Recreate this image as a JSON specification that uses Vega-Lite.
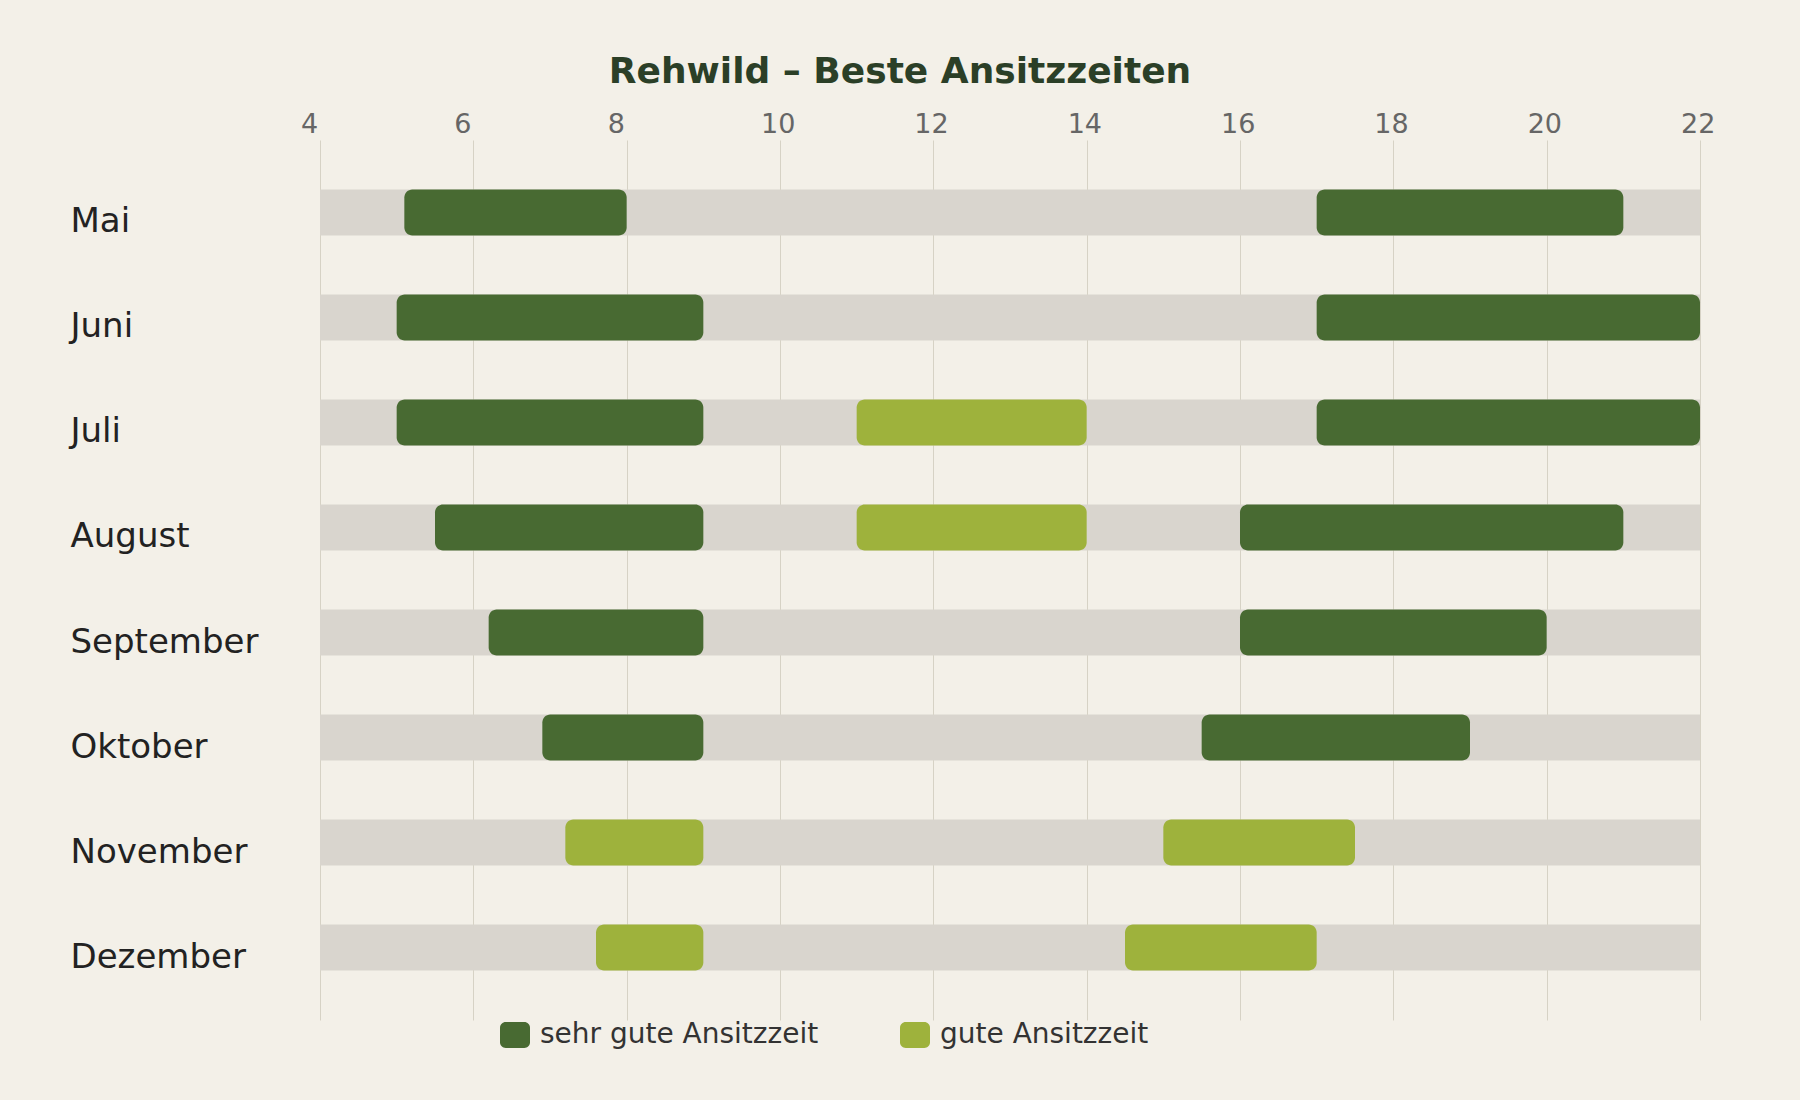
{
  "$schema": "https://vega.github.io/schema/vega-lite/v6.json",
  "width": 1380,
  "height": 880,
  "autosize": {"type": "none"},
  "padding": {"left": 320, "top": 140, "right": 100, "bottom": 80},
  "background": "#f3f0e8",
  "config": {
    "view": {"stroke": null},
    "font": "DejaVu Sans"
  },
  "title": {
    "text": "Rehwild – Beste Ansitzzeiten",
    "fontSize": 36,
    "fontWeight": "bold",
    "color": "#2b3f27",
    "anchor": "middle",
    "dx": -110,
    "offset": 19
  },
  "datasets": {
    "months": [
      {"month": "Mai"}, {"month": "Juni"}, {"month": "Juli"}, {"month": "August"},
      {"month": "September"}, {"month": "Oktober"}, {"month": "November"}, {"month": "Dezember"}
    ],
    "slots": [
      {"month": "Mai", "start": 5.1, "end": 8, "rating": "sehr gute Ansitzzeit"},
      {"month": "Mai", "start": 17, "end": 21, "rating": "sehr gute Ansitzzeit"},
      {"month": "Juni", "start": 5, "end": 9, "rating": "sehr gute Ansitzzeit"},
      {"month": "Juni", "start": 17, "end": 22, "rating": "sehr gute Ansitzzeit"},
      {"month": "Juli", "start": 5, "end": 9, "rating": "sehr gute Ansitzzeit"},
      {"month": "Juli", "start": 11, "end": 14, "rating": "gute Ansitzzeit"},
      {"month": "Juli", "start": 17, "end": 22, "rating": "sehr gute Ansitzzeit"},
      {"month": "August", "start": 5.5, "end": 9, "rating": "sehr gute Ansitzzeit"},
      {"month": "August", "start": 11, "end": 14, "rating": "gute Ansitzzeit"},
      {"month": "August", "start": 16, "end": 21, "rating": "sehr gute Ansitzzeit"},
      {"month": "September", "start": 6.2, "end": 9, "rating": "sehr gute Ansitzzeit"},
      {"month": "September", "start": 16, "end": 20, "rating": "sehr gute Ansitzzeit"},
      {"month": "Oktober", "start": 6.9, "end": 9, "rating": "sehr gute Ansitzzeit"},
      {"month": "Oktober", "start": 15.5, "end": 19, "rating": "sehr gute Ansitzzeit"},
      {"month": "November", "start": 7.2, "end": 9, "rating": "gute Ansitzzeit"},
      {"month": "November", "start": 15, "end": 17.5, "rating": "gute Ansitzzeit"},
      {"month": "Dezember", "start": 7.6, "end": 9, "rating": "gute Ansitzzeit"},
      {"month": "Dezember", "start": 14.5, "end": 17, "rating": "gute Ansitzzeit"}
    ]
  },
  "encoding": {
    "y": {
      "field": "month",
      "type": "nominal",
      "sort": ["Mai", "Juni", "Juli", "August", "September", "Oktober", "November", "Dezember"],
      "scale": {"type": "band", "paddingInner": 0, "paddingOuter": 0.19},
      "axis": {
        "title": null,
        "orient": "left",
        "domain": false,
        "ticks": false,
        "grid": false,
        "labelAlign": "left",
        "labelBaseline": "alphabetic",
        "labelOffset": 20,
        "labelPadding": 250,
        "labelLimit": 400,
        "labelFontSize": 34,
        "labelColor": "#222222"
      }
    }
  },
  "layer": [
    {
      "data": {"name": "months"},
      "mark": {"type": "bar", "height": 46, "color": "#d9d5ce", "cornerRadius": 0},
      "encoding": {
        "x": {
          "datum": 4,
          "type": "quantitative",
          "scale": {"domain": [4, 22], "nice": false, "zero": false},
          "axis": {
            "title": null,
            "orient": "top",
            "values": [4, 6, 8, 10, 12, 14, 16, 18, 20, 22],
            "format": "d",
            "domain": false,
            "ticks": false,
            "grid": true,
            "gridColor": "#d6d2c5",
            "gridWidth": 1,
            "labelFontSize": 27,
            "labelColor": "#666666",
            "labelAlign": "left",
            "labelBaseline": "alphabetic",
            "labelOffset": -19.5,
            "labelFlush": false,
            "labelPadding": 8
          }
        },
        "x2": {"datum": 22}
      }
    },
    {
      "data": {"name": "slots"},
      "mark": {"type": "bar", "height": 46, "cornerRadius": 8},
      "encoding": {
        "x": {"field": "start", "type": "quantitative"},
        "x2": {"field": "end"},
        "color": {
          "field": "rating",
          "type": "nominal",
          "scale": {
            "domain": ["sehr gute Ansitzzeit", "gute Ansitzzeit"],
            "range": ["#486a32", "#9eb23c"]
          },
          "legend": {
            "title": null,
            "orient": "none",
            "direction": "horizontal",
            "legendX": 180,
            "legendY": 880,
            "symbolType": "M-0.62,-0.87L0.62,-0.87A0.38,0.38 0 0 1 1,-0.49L1,0.49A0.38,0.38 0 0 1 0.62,0.87L-0.62,0.87A0.38,0.38 0 0 1 -1,0.49L-1,-0.49A0.38,0.38 0 0 1 -0.62,-0.87Z",
            "symbolSize": 900,
            "symbolStrokeWidth": 0,
            "symbolOpacity": 1,
            "labelFontSize": 28,
            "labelColor": "#333333",
            "labelOffset": 10,
            "columnPadding": 81,
            "labelLimit": 400
          }
        }
      }
    }
  ]
}
